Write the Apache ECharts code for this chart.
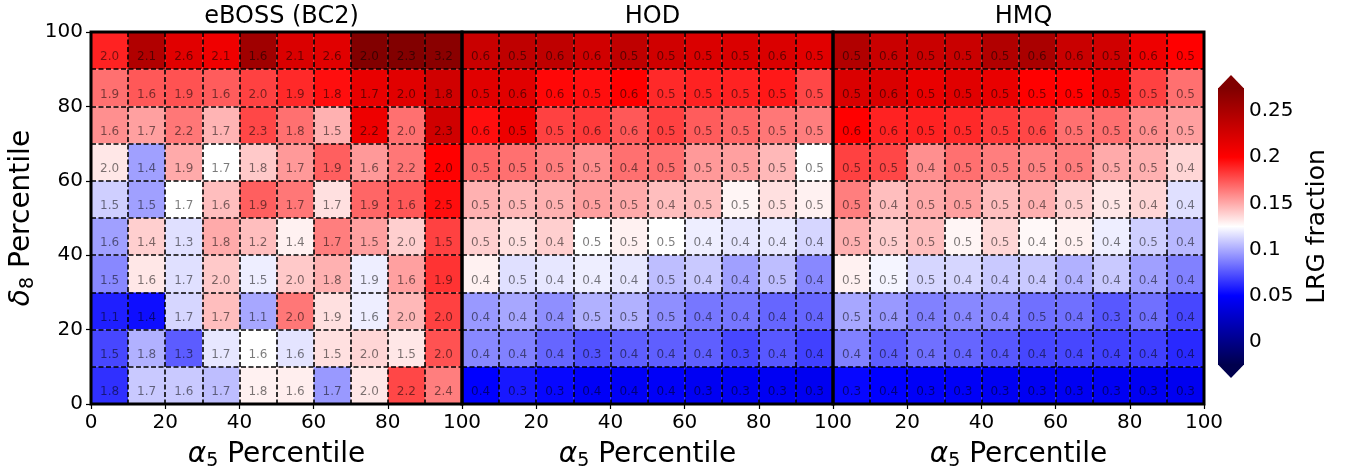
<!DOCTYPE html>
<html>
<head>
<meta charset="utf-8">
<script src="https://cdn.jsdelivr.net/npm/echarts@6/dist/echarts.min.js"></script>
<style>
  html, body { margin: 0; padding: 0; background: #fff; }
  #chart { width: 1352px; height: 470px; }
</style>
</head>
<body>
<div id="chart"></div>
<script>
// Lower edge of each α5 percentile bin (columns)
const alphaBins = [0, 10, 20, 30, 40, 50, 60, 70, 80, 90];
// Lower edge of each δ8 percentile bin; rows below are listed top to bottom
const deltaBins = [90, 80, 70, 60, 50, 40, 30, 20, 10, 0];
const binWidth = 10;

const panelTitles = ['eBOSS (BC2)', 'HOD', 'HMQ'];
const axisTicks = [0, 20, 40, 60, 80, 100];
const colorbarTicks = [0, 0.05, 0.1, 0.15, 0.2, 0.25];
const colorMin = -0.025;
const colorMax = 0.275;

// LRG fraction per cell (cell colour)
const ebossFrac = [
  [0.190, 0.246, 0.218, 0.209, 0.256, 0.222, 0.218, 0.274, 0.274, 0.269],
  [0.167, 0.174, 0.176, 0.173, 0.181, 0.188, 0.196, 0.213, 0.218, 0.228],
  [0.158, 0.153, 0.165, 0.147, 0.179, 0.167, 0.148, 0.210, 0.167, 0.228],
  [0.132, 0.097, 0.150, 0.125, 0.141, 0.155, 0.172, 0.155, 0.165, 0.200],
  [0.111, 0.097, 0.125, 0.144, 0.172, 0.165, 0.134, 0.170, 0.174, 0.196],
  [0.097, 0.139, 0.116, 0.150, 0.144, 0.129, 0.163, 0.153, 0.139, 0.181],
  [0.090, 0.132, 0.116, 0.141, 0.120, 0.141, 0.148, 0.120, 0.153, 0.185],
  [0.059, 0.054, 0.113, 0.144, 0.099, 0.165, 0.134, 0.120, 0.146, 0.181],
  [0.071, 0.102, 0.077, 0.118, 0.125, 0.117, 0.134, 0.137, 0.132, 0.176],
  [0.064, 0.109, 0.109, 0.106, 0.129, 0.130, 0.095, 0.132, 0.179, 0.163]
];
const hodFrac = [
  [0.232, 0.238, 0.238, 0.228, 0.238, 0.228, 0.222, 0.222, 0.222, 0.218],
  [0.218, 0.218, 0.198, 0.196, 0.200, 0.188, 0.190, 0.190, 0.193, 0.179],
  [0.196, 0.210, 0.181, 0.183, 0.174, 0.181, 0.173, 0.170, 0.165, 0.163],
  [0.170, 0.167, 0.163, 0.158, 0.167, 0.167, 0.155, 0.153, 0.146, 0.125],
  [0.148, 0.146, 0.148, 0.153, 0.150, 0.144, 0.144, 0.128, 0.134, 0.129],
  [0.139, 0.134, 0.139, 0.125, 0.129, 0.125, 0.120, 0.118, 0.118, 0.113],
  [0.129, 0.116, 0.118, 0.120, 0.118, 0.106, 0.109, 0.097, 0.106, 0.090],
  [0.095, 0.099, 0.092, 0.102, 0.102, 0.092, 0.085, 0.085, 0.080, 0.080],
  [0.090, 0.088, 0.080, 0.074, 0.078, 0.078, 0.078, 0.071, 0.076, 0.069],
  [0.050, 0.057, 0.052, 0.047, 0.046, 0.047, 0.045, 0.045, 0.045, 0.044]
];
const hmqFrac = [
  [0.246, 0.232, 0.232, 0.232, 0.246, 0.250, 0.232, 0.228, 0.210, 0.200],
  [0.222, 0.222, 0.213, 0.218, 0.213, 0.200, 0.200, 0.210, 0.181, 0.167],
  [0.200, 0.190, 0.190, 0.188, 0.183, 0.179, 0.167, 0.167, 0.158, 0.153],
  [0.181, 0.179, 0.158, 0.167, 0.163, 0.161, 0.163, 0.150, 0.148, 0.137],
  [0.163, 0.144, 0.150, 0.153, 0.144, 0.148, 0.139, 0.132, 0.137, 0.116],
  [0.148, 0.139, 0.144, 0.128, 0.137, 0.127, 0.129, 0.120, 0.111, 0.104],
  [0.129, 0.122, 0.113, 0.113, 0.109, 0.109, 0.102, 0.109, 0.097, 0.088],
  [0.099, 0.095, 0.088, 0.090, 0.090, 0.083, 0.083, 0.076, 0.083, 0.071],
  [0.088, 0.078, 0.083, 0.080, 0.076, 0.071, 0.071, 0.069, 0.069, 0.062],
  [0.052, 0.050, 0.047, 0.047, 0.045, 0.045, 0.045, 0.045, 0.044, 0.044]
];

// Value printed in each cell
const ebossLabel = [
  [2.0, 2.1, 2.6, 2.1, 1.6, 2.1, 2.6, 2.0, 2.3, 3.2],
  [1.9, 1.6, 1.9, 1.6, 2.0, 1.9, 1.8, 1.7, 2.0, 1.8],
  [1.6, 1.7, 2.2, 1.7, 2.3, 1.8, 1.5, 2.2, 2.0, 2.3],
  [2.0, 1.4, 1.9, 1.7, 1.8, 1.7, 1.9, 1.6, 2.2, 2.0],
  [1.5, 1.5, 1.7, 1.6, 1.9, 1.7, 1.7, 1.9, 1.6, 2.5],
  [1.6, 1.4, 1.3, 1.8, 1.2, 1.4, 1.7, 1.5, 2.0, 1.5],
  [1.5, 1.6, 1.7, 2.0, 1.5, 2.0, 1.8, 1.9, 1.6, 1.9],
  [1.1, 1.4, 1.7, 1.7, 1.1, 2.0, 1.9, 1.6, 2.0, 2.0],
  [1.5, 1.8, 1.3, 1.7, 1.6, 1.6, 1.5, 2.0, 1.5, 2.0],
  [1.8, 1.7, 1.6, 1.7, 1.8, 1.6, 1.7, 2.0, 2.2, 2.4]
];
const hodLabel = [
  [0.6, 0.5, 0.6, 0.6, 0.5, 0.5, 0.5, 0.5, 0.6, 0.5],
  [0.5, 0.6, 0.6, 0.5, 0.6, 0.5, 0.5, 0.5, 0.5, 0.5],
  [0.6, 0.5, 0.5, 0.6, 0.6, 0.5, 0.5, 0.5, 0.5, 0.5],
  [0.5, 0.5, 0.5, 0.5, 0.4, 0.5, 0.5, 0.5, 0.5, 0.5],
  [0.5, 0.5, 0.5, 0.5, 0.5, 0.4, 0.5, 0.5, 0.5, 0.5],
  [0.5, 0.5, 0.4, 0.5, 0.5, 0.5, 0.4, 0.4, 0.4, 0.4],
  [0.4, 0.5, 0.4, 0.4, 0.4, 0.5, 0.4, 0.4, 0.5, 0.4],
  [0.4, 0.4, 0.4, 0.5, 0.5, 0.5, 0.4, 0.4, 0.4, 0.4],
  [0.4, 0.4, 0.4, 0.3, 0.4, 0.4, 0.4, 0.3, 0.4, 0.4],
  [0.4, 0.3, 0.3, 0.4, 0.4, 0.4, 0.3, 0.3, 0.3, 0.3]
];
const hmqLabel = [
  [0.5, 0.6, 0.5, 0.5, 0.5, 0.6, 0.6, 0.5, 0.6, 0.5],
  [0.5, 0.6, 0.5, 0.5, 0.5, 0.5, 0.5, 0.5, 0.5, 0.5],
  [0.6, 0.6, 0.5, 0.5, 0.5, 0.6, 0.5, 0.5, 0.6, 0.5],
  [0.5, 0.5, 0.4, 0.5, 0.5, 0.5, 0.5, 0.5, 0.5, 0.4],
  [0.5, 0.4, 0.5, 0.5, 0.5, 0.4, 0.5, 0.5, 0.4, 0.4],
  [0.5, 0.5, 0.5, 0.5, 0.5, 0.4, 0.5, 0.4, 0.5, 0.4],
  [0.5, 0.5, 0.5, 0.4, 0.4, 0.4, 0.4, 0.4, 0.4, 0.4],
  [0.5, 0.4, 0.4, 0.4, 0.4, 0.5, 0.4, 0.3, 0.4, 0.4],
  [0.4, 0.4, 0.4, 0.4, 0.4, 0.4, 0.4, 0.4, 0.4, 0.4],
  [0.3, 0.4, 0.3, 0.3, 0.3, 0.3, 0.3, 0.3, 0.3, 0.3]
];

const panelFrac = [ebossFrac, hodFrac, hmqFrac];
const panelLabel = [ebossLabel, hodLabel, hmqLabel];

// Diverging blue-white-red colour map (dark blue -> blue -> white -> red -> dark red)
const mapStops = [[0, 0, 77], [0, 0, 255], [255, 255, 255], [255, 0, 0], [128, 0, 0]];
function mapColor(v) {
  let t = (v - colorMin) / (colorMax - colorMin);
  t = Math.max(0, Math.min(1, t));
  const seg = Math.min(mapStops.length - 2, Math.floor(t * (mapStops.length - 1)));
  const f = t * (mapStops.length - 1) - seg;
  const a = mapStops[seg], b = mapStops[seg + 1];
  const c = a.map((x, i) => Math.round(x + (b[i] - x) * f));
  return 'rgb(' + c.join(',') + ')';
}

const FONT = 'DejaVu Sans';

function buildCells(frac, label) {
  const out = [];
  deltaBins.forEach((dy, r) => {
    alphaBins.forEach((ax, c) => {
      out.push([ax, dy, frac[r][c], label[r][c]]);
    });
  });
  return out;
}

function renderCell(params, api) {
  const x0 = api.value(0), y0 = api.value(1);
  const p0 = api.coord([x0, y0]);
  const p1 = api.coord([x0 + binWidth, y0 + binWidth]);
  const w = p1[0] - p0[0];
  const h = p0[1] - p1[1];
  return {
    type: 'group',
    children: [
      {
        type: 'rect',
        shape: { x: p0[0], y: p1[1], width: w, height: h },
        style: { fill: mapColor(api.value(2)) }
      },
      {
        type: 'text',
        style: {
          x: p0[0] + w / 2,
          y: p1[1] + h * 0.68,
          text: api.value(3).toFixed(1),
          fill: 'rgba(0,0,0,0.52)',
          font: '12px "DejaVu Sans"',
          align: 'center',
          verticalAlign: 'middle'
        },
        z2: 5
      }
    ]
  };
}

const panelLefts = [91, 462, 833];
const panelWidth = 371;
const grids = panelLefts.map(l => ({
  left: l, top: 32, width: panelWidth, height: 372,
  outerBoundsMode: 'none',
  show: true, borderColor: '#000', borderWidth: 3,
  backgroundColor: 'transparent', z: 10
}));
grids.push({ left: 1218, top: 88, width: 26, height: 277, outerBoundsMode: 'none' });

const dashStyle = { color: '#000', width: 1.6, type: [5, 2.5] };
const alphaName = '{g|α}{s|5}{t| Percentile}';
const nameRich = {
  g: { fontFamily: FONT, fontStyle: 'italic', fontSize: 28, color: '#000' },
  s: { fontFamily: FONT, fontSize: 19, color: '#000', padding: [13, 0, 0, 0] },
  t: { fontFamily: FONT, fontSize: 28, color: '#000' }
};
const deltaName = '{g|δ}{s|8}{t| Percentile}';

const xAxes = panelLefts.map((l, i) => ({
  type: 'value', gridIndex: i, min: 0, max: 100, interval: 20, z: 5,
  axisLine: { show: false },
  axisTick: { show: true, length: 5, lineStyle: { color: '#000', width: 1.2 } },
  axisLabel: {
    color: '#000', fontSize: 20, fontFamily: FONT, margin: 9,
    showMinLabel: i === 0,
    customValues: axisTicks
  },
  splitLine: { show: true, lineStyle: dashStyle },
  minorTick: { show: false, splitNumber: 2 },
  minorSplitLine: { show: true, lineStyle: dashStyle },
  name: alphaName, nameLocation: 'middle', nameGap: 35,
  nameTextStyle: { fontSize: 28, fontFamily: FONT, color: '#000', rich: nameRich }
}));
xAxes.push({ type: 'value', gridIndex: 3, min: 0, max: 1, show: false });

const yAxes = panelLefts.map((l, i) => ({
  type: 'value', gridIndex: i, min: 0, max: 100, interval: 20, z: 5,
  axisLine: { show: false },
  axisTick: { show: i === 0, length: 5, lineStyle: { color: '#000', width: 1.2 } },
  axisLabel: { show: i === 0, color: '#000', fontSize: 20, fontFamily: FONT, margin: 8 },
  splitLine: { show: true, lineStyle: dashStyle },
  minorTick: { show: false, splitNumber: 2 },
  minorSplitLine: { show: true, lineStyle: dashStyle },
  name: i === 0 ? deltaName : '',
  nameLocation: 'middle', nameRotate: 90, nameGap: 53,
  nameTextStyle: { fontSize: 28, fontFamily: FONT, color: '#000', rich: nameRich }
}));
yAxes.push({
  type: 'value', gridIndex: 3, min: colorMin, max: colorMax, position: 'right',
  axisLine: { show: false },
  splitLine: { show: false },
  axisTick: { show: true, length: 5, customValues: colorbarTicks, lineStyle: { color: '#000', width: 1.2 } },
  axisLabel: { color: '#000', fontSize: 20, fontFamily: FONT, margin: 5, customValues: colorbarTicks },
  name: 'LRG fraction', nameLocation: 'middle', nameRotate: 90, nameGap: 61,
  nameTextStyle: { fontSize: 25, fontFamily: FONT, color: '#000' }
});

const series = panelFrac.map((frac, i) => ({
  type: 'custom',
  xAxisIndex: i, yAxisIndex: i,
  data: buildCells(frac, panelLabel[i]),
  renderItem: renderCell,
  silent: true
}));

// Colour bar with extension arrows at both ends
series.push({
  type: 'custom',
  xAxisIndex: 3, yAxisIndex: 3,
  clip: false,
  silent: true,
  data: [[0]],
  renderItem: function (params, api) {
    const lo = api.coord([0, colorMin]);
    const hi = api.coord([1, colorMax]);
    const xl = lo[0], xr = hi[0], yb = lo[1], yt = hi[1];
    const xm = (xl + xr) / 2;
    const tip = 13;
    const stops = mapStops.map((c, k) => ({
      offset: k / (mapStops.length - 1),
      color: 'rgb(' + c.join(',') + ')'
    }));
    return {
      type: 'group',
      children: [
        {
          type: 'rect',
          shape: { x: xl, y: yt, width: xr - xl, height: yb - yt },
          style: { fill: new echarts.graphic.LinearGradient(0, 1, 0, 0, stops) }
        },
        {
          type: 'polygon',
          shape: { points: [[xl, yt + 0.5], [xr, yt + 0.5], [xm, yt - tip]] },
          style: { fill: mapColor(colorMax) }
        },
        {
          type: 'polygon',
          shape: { points: [[xl, yb - 0.5], [xr, yb - 0.5], [xm, yb + tip]] },
          style: { fill: mapColor(colorMin) }
        }
      ]
    };
  }
});

const titles = panelTitles.map((t, i) => ({
  text: t,
  left: panelLefts[i] + panelWidth / 2,
  top: 0,
  textAlign: 'center',
  textStyle: { fontSize: 24, fontWeight: 'normal', fontFamily: FONT, color: '#000' }
}));

const chart = echarts.init(document.getElementById('chart'), null, { renderer: 'canvas' });
chart.setOption({
  animation: false,
  backgroundColor: '#fff',
  textStyle: { fontFamily: FONT },
  title: titles,
  grid: grids,
  xAxis: xAxes,
  yAxis: yAxes,
  series: series
});
</script>
</body>
</html>
